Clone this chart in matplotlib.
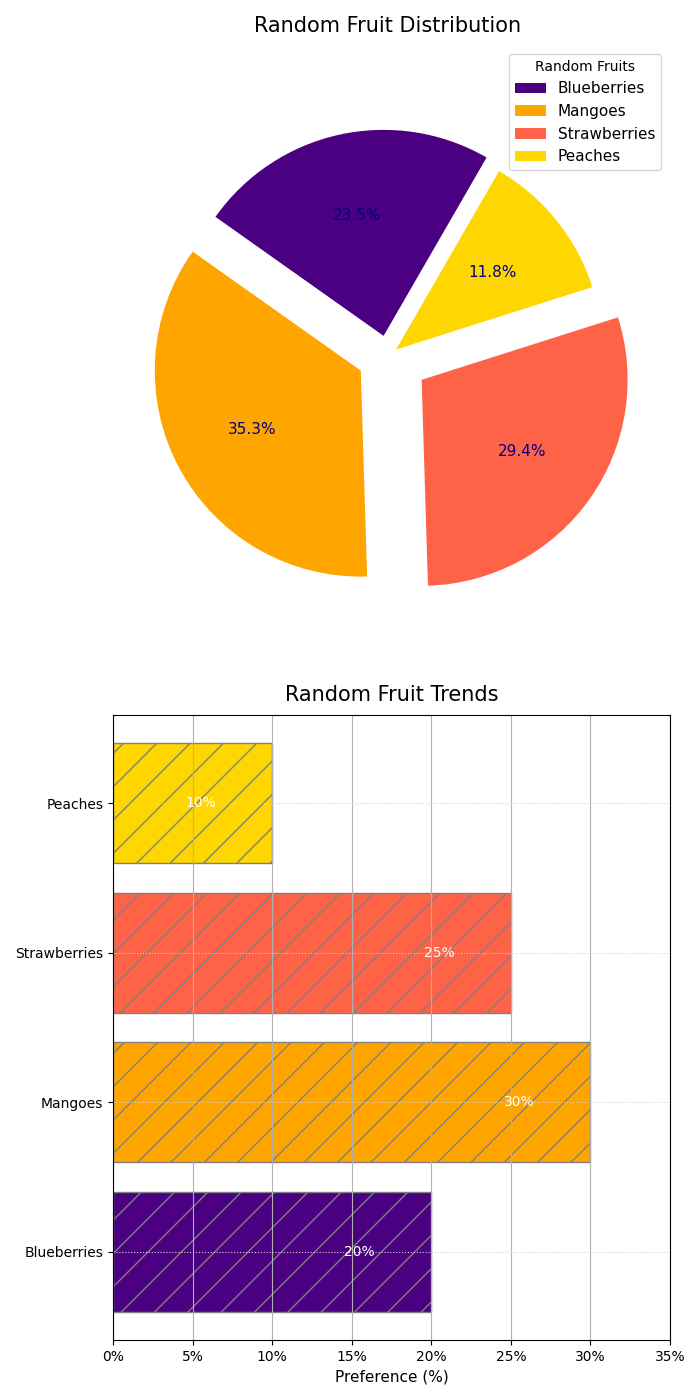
import matplotlib.pyplot as plt
from matplotlib.ticker import FuncFormatter

# donnees
fruits = ['Blueberries', 'Mangoes', 'Strawberries', 'Peaches']
parts = [4, 6, 5, 2]
couleurs = ['#4B0082', '#FFA500', '#FF6347', '#FFD700']
ecarts = [0.1, 0.15, 0.2, 0.05]
preference = [20, 30, 25, 10]
graduations = [0, 5, 10, 15, 20, 25, 30, 35]

fig = plt.figure(figsize=(7, 14), dpi=100)

# camembert
ax1 = fig.add_axes([130.5 / 700, 1 - 613.5 / 1400, 515 / 700, 515 / 1400])
wedges, txts, pcts = ax1.pie(parts, explode=ecarts, colors=couleurs, autopct='%1.1f%%',
                             startangle=60, textprops={'color': 'navy', 'fontsize': 11})
ax1.set_title("Random Fruit Distribution", fontsize=15, pad=48)
ax1.legend(wedges, fruits, title="Random Fruits", loc='upper right', fontsize=11,
           title_fontsize=10, bbox_to_anchor=(669 / 700, 1 - 46 / 1400),
           bbox_transform=fig.transFigure)

# barres
ax2 = fig.add_axes([113 / 700, 60 / 1400, 557 / 700, 625 / 1400])
barres = ax2.barh(fruits, preference, color=couleurs, edgecolor='gray', hatch='/')
for b, v in zip(barres, preference):
    ax2.text(v - 4.5, b.get_y() + b.get_height() / 2, f'{v}%', ha='center', va='center',
             color='white', fontsize=10)
ax2.set_xlim(0, 35)
ax2.set_xticks(graduations)
ax2.xaxis.set_major_formatter(FuncFormatter(lambda x, p: f'{x:.0f}%'))
ax2.grid(axis='x')
ax2.grid(axis='y', linestyle=':', color='lightgray')
ax2.set_xlabel('Preference (%)', fontsize=11)
ax2.set_title("Random Fruit Trends", fontsize=15, pad=10)

fig.savefig('out.png', dpi=100)
